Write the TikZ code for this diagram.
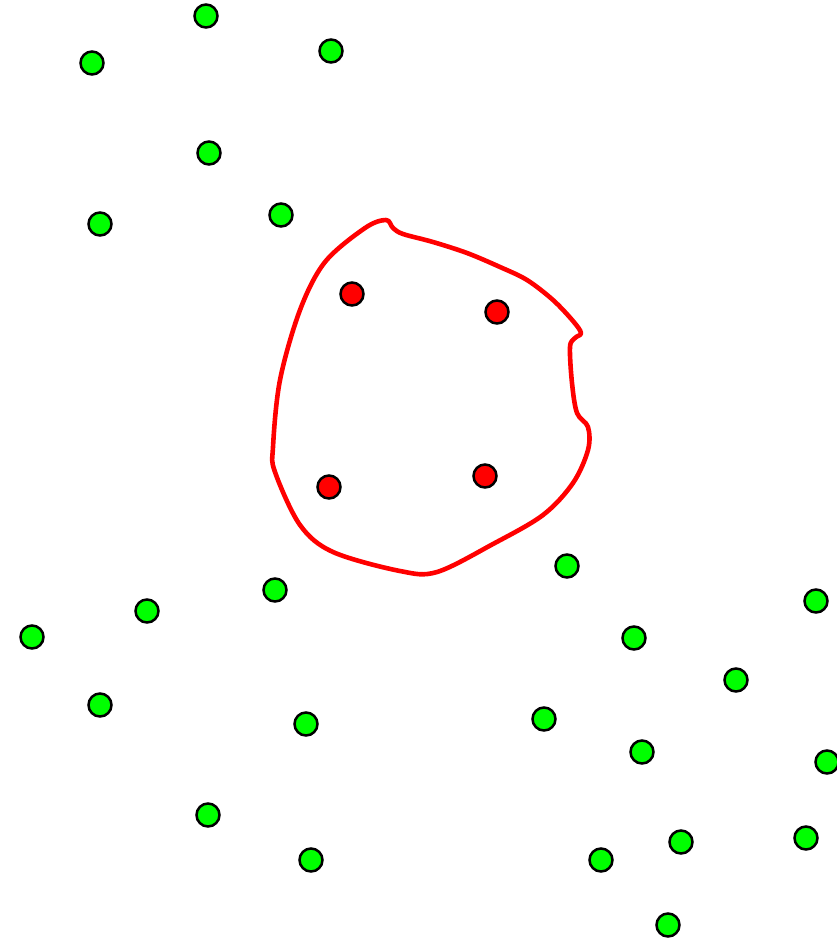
\documentclass[tikz,border=0pt]{standalone}
\begin{document}
\begin{tikzpicture}[x=1pt,y=-1pt,
  gdot/.style={circle,draw=black,line width=2.5pt,fill=green,minimum size=23pt,inner sep=0pt},
  rdot/.style={circle,draw=black,line width=2.5pt,fill=red,minimum size=23pt,inner sep=0pt},
  blob/.style={draw=red,line width=4.6pt,line join=round}]
\useasboundingbox (0,0) rectangle (837,940);
\clip (0,0) rectangle (837,940);
\draw[blob] plot[smooth cycle,tension=0.55] coordinates{
 (386,220) (393,228) (403,234) (433,242) (467,253) (500,267) (527,280) (553,300) (573,321) (581,333)
 (575,338) (570,347) (572,383) (577,413) (588,427) (588,450) (573,483) (543,515) (493,544)
 (437,572) (400,571) (333,552) (300,525) (275,472) (273,447) (280,380) (300,310) (325,262) (365,228)};
\foreach \x/\y [count=\i] in {206/16,92/63,331/51,209/153,100/224,281/215,567/566,816/601,32/637,147/611,275/590,634/638,736/680,100/705,306/724,544/719,642/752,827/762,208/815,311/860,601/860,681/842,806/838,668/925}
  \node[gdot] (g\i) at (\x,\y) {};
\foreach \x/\y [count=\i] in {352/294,497/312,329/487,485/476}
  \node[rdot] (r\i) at (\x,\y) {};
\end{tikzpicture}
\end{document}
